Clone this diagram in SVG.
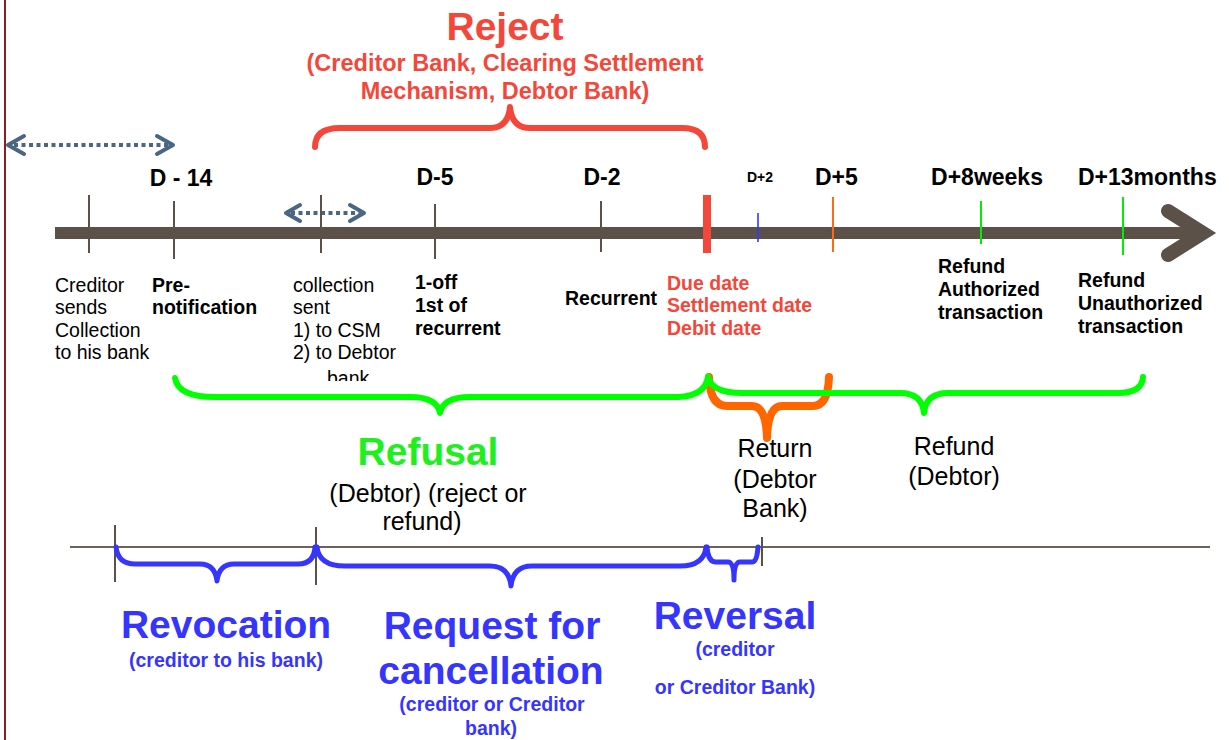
<svg xmlns="http://www.w3.org/2000/svg" width="1229" height="740" viewBox="0 0 1229 740">
<style>
text{font-family:"Liberation Sans",Arial,sans-serif}
.d{font-weight:bold;font-size:23px;fill:#000;text-anchor:middle}
.ds{text-anchor:start}
.dsm{font-size:14px}
.lbl{font-size:19.5px;fill:#000}
.lb{font-size:19.5px;font-weight:bold;fill:#000}
.red{fill:#f4473a;font-weight:bold}
.rsub{font-size:23.5px;text-anchor:middle}
.big{font-size:39px;font-weight:bold;text-anchor:middle}
.blue{fill:#3535ff}
.bsm{font-size:19.5px;font-weight:bold;text-anchor:middle;fill:#3535ff}
.mid{font-size:25px;fill:#000;text-anchor:middle}
.tick{stroke:#5b5149;stroke-width:2}
.brace{fill:none;stroke-linecap:round;stroke-linejoin:round}
.dot{fill:none;stroke:#4a6683;stroke-width:4;stroke-dasharray:4 3.5}
.chev{fill:none;stroke:#4a6683;stroke-width:4;stroke-linecap:round;stroke-linejoin:round}
</style>
<defs>
<clipPath id="bankclip"><rect x="280" y="360" width="150" height="21"/></clipPath>
</defs>
<rect width="1229" height="740" fill="#fff"/>
<line x1="5" y1="0" x2="5" y2="740" stroke="#8b2020" stroke-width="2"/>

<g id="connectors">
<line class="dot" x1="14" y1="145" x2="168" y2="145"/>
<polyline class="chev" points="24,136 8,145 24,154"/>
<polyline class="chev" points="157,136 173,145 157,154"/>
<line class="dot" x1="291" y1="213" x2="360" y2="213"/>
<polyline class="chev" points="300,205 286,213 300,221"/>
<polyline class="chev" points="350,205 364,213 350,221"/>
<line x1="55" y1="233" x2="1205" y2="233" stroke="#5b5149" stroke-width="12"/>
<polyline points="1168,211 1203,233 1168,255" fill="none" stroke="#5b5149" stroke-width="14" stroke-linecap="round" stroke-linejoin="miter"/>
<line class="tick" x1="89" y1="195" x2="89" y2="253"/>
<line class="tick" x1="174" y1="201" x2="174" y2="259"/>
<line class="tick" x1="321" y1="195" x2="321" y2="253"/>
<line class="tick" x1="435" y1="204" x2="435" y2="259"/>
<line class="tick" x1="601" y1="201" x2="601" y2="252"/>
<line x1="707" y1="195" x2="707" y2="253" stroke="#f4473a" stroke-width="8"/>
<line x1="758" y1="213" x2="758" y2="242" stroke="#3535ff" stroke-width="1.6"/>
<line x1="833" y1="197" x2="833" y2="252" stroke="#ff6a10" stroke-width="2"/>
<line x1="981" y1="201" x2="981" y2="244" stroke="#00ee00" stroke-width="2"/>
<line x1="1123" y1="197" x2="1123" y2="255" stroke="#00ee00" stroke-width="2"/>
<line x1="70" y1="547" x2="1210" y2="547" stroke="#6b625a" stroke-width="2"/>
<line class="tick" x1="115" y1="525" x2="115" y2="582"/>
<line class="tick" x1="316" y1="527" x2="316" y2="585"/>
<line class="tick" x1="762" y1="537" x2="762" y2="566"/>
<path class="brace" stroke="#f4473a" stroke-width="6" d="M315,147 Q315,128 340,128 L490,128 Q508,128 510,107 Q512,128 530,128 L682,128 Q705,128 705,147"/>
<path class="brace" stroke="#ff6600" stroke-width="8" d="M709,377 Q710,406 727,406 L752,406 Q766,406 767,438 Q768,406 782,406 L813,406 Q828,406 829,377"/>
<path class="brace" stroke="#00ff00" stroke-width="6" d="M175,378 Q178,397 215,397 L410,397 Q437,397 440,413 Q443,397 470,397 L678,397 Q705,396 708,377"/>
<path class="brace" stroke="#00ff00" stroke-width="6" d="M708,377 Q712,393 742,393 L900,393 Q922,393 924,413 Q926,393 948,393 L1118,393 Q1142,393 1143,377"/>
<path class="brace" stroke="#3535ff" stroke-width="5" d="M116,547 Q118,564 135,564 L200,564 Q215,564 217,581 Q219,564 234,564 L298,564 Q314,564 315,547"/>
<path class="brace" stroke="#3535ff" stroke-width="5" d="M317,547 Q319,566 345,566 L490,566 Q509,566 511,586 Q513,566 532,566 L680,566 Q704,566 706,547"/>
<path class="brace" stroke="#3535ff" stroke-width="5" d="M707,547 Q708,562 716,562 L728,562 Q734,562 734,580 Q734,562 740,562 L752,562 Q757,562 758,547"/>
</g>

<g id="reject">
<text class="big" x="505" y="40" fill="#f4473a">Reject</text>
<text class="red rsub" x="505" y="71">(Creditor Bank, Clearing Settlement</text>
<text class="red rsub" x="505" y="99">Mechanism, Debtor Bank)</text>
</g>

<g id="dates">
<text class="d" x="181" y="186">D - 14</text>
<text class="d" x="435" y="185">D-5</text>
<text class="d" x="602" y="185">D-2</text>
<text class="d dsm" x="760" y="182">D+2</text>
<text class="d ds" x="815" y="185">D+5</text>
<text class="d" x="987" y="185">D+8weeks</text>
<text class="d ds" x="1078" y="185">D+13months</text>
</g>

<g id="creditor-sends">
<text class="lbl" x="55" y="292">Creditor</text>
<text class="lbl" x="55" y="314">sends</text>
<text class="lbl" x="55" y="337">Collection</text>
<text class="lbl" x="55" y="359">to his bank</text>
</g>
<g id="prenotification">
<text class="lb" x="152" y="292">Pre-</text>
<text class="lb" x="152" y="314">notification</text>
</g>
<g id="collection-sent">
<text class="lbl" x="293" y="292">collection</text>
<text class="lbl" x="293" y="314">sent</text>
<text class="lbl" x="293" y="337">1) to CSM</text>
<text class="lbl" x="293" y="359">2) to Debtor</text>
<text class="lbl" x="327" y="385" clip-path="url(#bankclip)">bank</text>
</g>
<g id="one-off">
<text class="lb" x="415" y="289">1-off</text>
<text class="lb" x="415" y="312">1st of</text>
<text class="lb" x="415" y="335">recurrent</text>
</g>
<g id="recurrent">
<text class="lb" x="565" y="305">Recurrent</text>
</g>
<g id="due-date">
<text class="lb red" x="667" y="290">Due date</text>
<text class="lb red" x="667" y="312">Settlement date</text>
<text class="lb red" x="667" y="335">Debit date</text>
</g>
<g id="refund-authorized">
<text class="lb" x="938" y="273">Refund</text>
<text class="lb" x="938" y="296">Authorized</text>
<text class="lb" x="938" y="319">transaction</text>
</g>
<g id="refund-unauthorized">
<text class="lb" x="1078" y="287">Refund</text>
<text class="lb" x="1078" y="310">Unauthorized</text>
<text class="lb" x="1078" y="333">transaction</text>
</g>

<g id="refusal">
<text class="big" x="428" y="465" fill="#1ef01e">Refusal</text>
<text class="mid" x="428" y="502">(Debtor) (reject or</text>
<text class="mid" x="422" y="530">refund)</text>
</g>
<g id="return">
<text class="mid" x="775" y="457">Return</text>
<text class="mid" x="775" y="488">(Debtor</text>
<text class="mid" x="775" y="517">Bank)</text>
</g>
<g id="refund">
<text class="mid" x="954" y="455">Refund</text>
<text class="mid" x="954" y="485">(Debtor)</text>
</g>

<g id="revocation">
<text class="big blue" x="226" y="638">Revocation</text>
<text class="bsm" x="226" y="667">(creditor to his bank)</text>
</g>
<g id="request-cancellation">
<text class="big blue" x="492" y="639">Request for</text>
<text class="big blue" x="491" y="684">cancellation</text>
<text class="bsm" x="492" y="711">(creditor or Creditor</text>
<text class="bsm" x="491" y="735">bank)</text>
</g>
<g id="reversal">
<text class="big blue" x="735" y="629">Reversal</text>
<text class="bsm" x="735" y="656">(creditor</text>
<text class="bsm" x="735" y="694">or Creditor Bank)</text>
</g>
</svg>
